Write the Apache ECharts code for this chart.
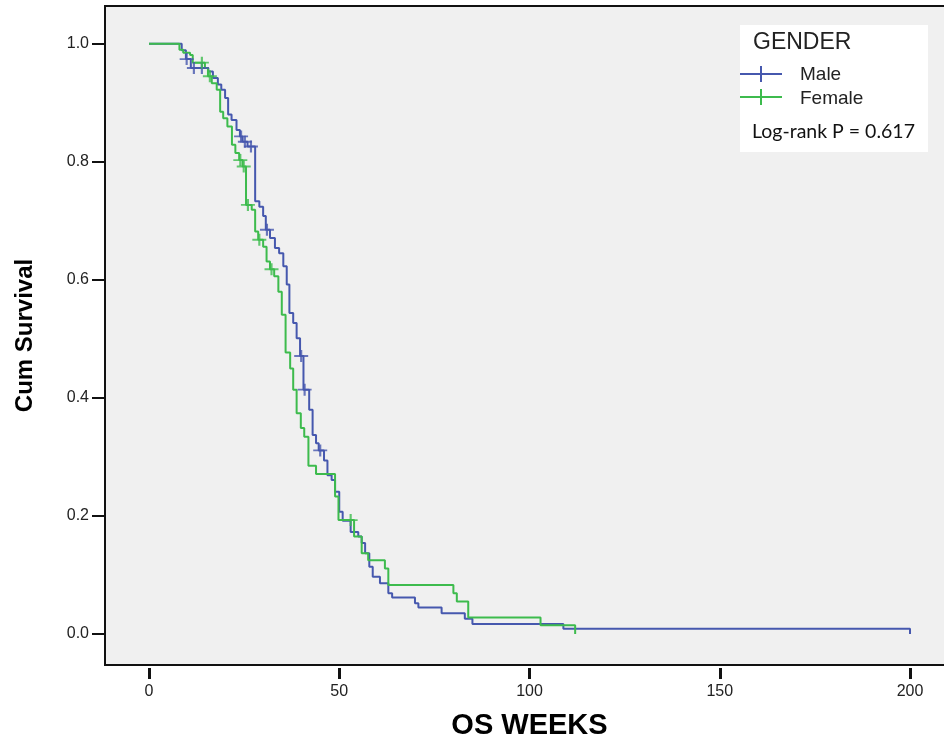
<!DOCTYPE html>
<html>
<head>
<meta charset="utf-8">
<script src="https://cdn.jsdelivr.net/npm/echarts@6/dist/echarts.min.js"></script>
<style>
  html, body { margin: 0; padding: 0; background: #fff; }
  #chart { width: 944px; height: 738px; }
</style>
</head>
<body>
<div id="chart"></div>
<script>
// Kaplan-Meier steps: [weeks, cum survival after the drop]
const maleSteps = [
  [0, 1], [8.6, 0.989], [9.7, 0.974], [11.0, 0.959], [15.6, 0.953], [16.8, 0.942],
  [18.1, 0.931], [19.0, 0.922], [20.0, 0.908], [20.8, 0.880], [21.7, 0.871], [23.0, 0.854],
  [23.9, 0.843], [24.6, 0.834], [25.9, 0.826], [27.9, 0.733], [29.0, 0.724], [30.0, 0.708],
  [30.7, 0.685], [31.8, 0.671], [33.1, 0.654], [34.2, 0.645], [35.3, 0.623], [36.2, 0.592],
  [36.9, 0.544], [37.9, 0.527], [38.8, 0.501], [39.7, 0.471], [40.6, 0.414], [42.1, 0.380],
  [43.0, 0.337], [43.9, 0.323], [44.6, 0.311], [46.0, 0.294], [46.9, 0.269], [48.0, 0.261],
  [48.9, 0.241], [50.0, 0.207], [50.9, 0.192], [53.0, 0.173], [55.0, 0.165], [55.9, 0.154],
  [56.8, 0.137], [57.9, 0.114], [58.8, 0.097], [60.7, 0.086], [62.9, 0.069], [63.9, 0.062],
  [69.9, 0.052], [70.8, 0.045], [76.9, 0.035], [83.0, 0.026], [85.0, 0.017], [108.9, 0.009],
  [200, 0]
]
const maleCensored = [
  [9.9, 0.974], [11.8, 0.959], [13.9, 0.959], [24.2, 0.843], [25.2, 0.834], [26.8, 0.826],
  [31.0, 0.685], [40.0, 0.471], [40.9, 0.414], [45.0, 0.311]
]
const femaleSteps = [
  [0, 1], [8.0, 0.990], [9.0, 0.985], [10.8, 0.981], [11.5, 0.968], [14.7, 0.959],
  [15.5, 0.945], [16.5, 0.933], [17.8, 0.922], [18.7, 0.885], [19.5, 0.874], [20.6, 0.860],
  [21.8, 0.829], [22.7, 0.815], [23.7, 0.803], [24.6, 0.792], [25.5, 0.727], [27.0, 0.719],
  [27.9, 0.682], [28.7, 0.668], [30.0, 0.656], [30.9, 0.631], [31.8, 0.618], [32.9, 0.606],
  [34.0, 0.580], [34.9, 0.541], [35.9, 0.477], [37.1, 0.450], [37.9, 0.414], [38.8, 0.374],
  [39.9, 0.349], [40.8, 0.334], [41.9, 0.285], [43.9, 0.271], [48.9, 0.233], [49.8, 0.193],
  [53.9, 0.165], [55.9, 0.137], [57.6, 0.125], [62.0, 0.111], [62.9, 0.083], [80.0, 0.069],
  [80.9, 0.055], [83.9, 0.028], [102.9, 0.015], [112.0, 0]
]
const femaleCensored = [
  [13.9, 0.968], [16.0, 0.945], [24.0, 0.803], [24.9, 0.792], [26.0, 0.727],
  [29.0, 0.668], [32.2, 0.618], [53.0, 0.193]
]
const xTicks = [0, 50, 100, 150, 200]
const yTicks = [0, 0.2, 0.4, 0.6, 0.8, 1.0]
const groupNames = ['Male', 'Female']
const legendTitle = 'GENDER'
const pText = 'Log-rank P = 0.617'

const BLUE = '#4658ae'
const GREEN = '#3dbb4d'
const CROSS = 'path://M0,6L14,6M7,0L7,12'

function stepSeries(name, data, color) {
  return {
    name, type: 'line', step: 'end', data, symbol: 'none', silent: true,
    lineStyle: { color, width: 2 }, z: 3
  }
}

function censorSeries(name, data, color) {
  return {
    name, type: 'scatter', data, symbol: CROSS, symbolSize: [14, 12], silent: true,
    itemStyle: { color: 'transparent', borderColor: color, borderWidth: 2 }, z: 4
  }
}

function legendCross(y, color) {
  return [
    { type: 'line', shape: { x1: 740, y1: y, x2: 782, y2: y }, style: { stroke: color, lineWidth: 2 } },
    { type: 'line', shape: { x1: 761, y1: y - 8, x2: 761, y2: y + 8 }, style: { stroke: color, lineWidth: 2 } }
  ]
}

const chart = echarts.init(document.getElementById('chart'))
chart.setOption({
  backgroundColor: '#fff',
  animation: false,
  grid: {
    left: 105, top: 6, width: 849, height: 659,
    outerBoundsMode: 'none', containLabel: false,
    show: true, backgroundColor: '#f0f0f0', borderColor: '#111', borderWidth: 2
  },
  xAxis: {
    type: 'value', min: -11.56, max: 211.56, offset: 3,
    axisLine: { show: false, onZero: false },
    axisTick: { show: true, customValues: xTicks, length: 11, lineStyle: { color: '#111', width: 3 } },
    axisLabel: { customValues: xTicks, margin: 16, color: '#222', fontSize: 16, fontFamily: 'Liberation Sans' },
    splitLine: { show: false },
    name: 'OS WEEKS', nameLocation: 'middle', nameGap: 43,
    nameTextStyle: { fontSize: 29, fontWeight: 'bold', color: '#000', fontFamily: 'Liberation Sans', verticalAlign: 'top' }
  },
  yAxis: {
    type: 'value', min: -0.0525, max: 1.064,
    axisLine: { show: false, onZero: false },
    axisTick: { show: true, customValues: yTicks, length: 13, lineStyle: { color: '#111', width: 2 } },
    axisLabel: {
      customValues: yTicks, margin: 16, color: '#222', fontSize: 16, fontFamily: 'Liberation Sans',
      formatter: v => v.toFixed(1)
    },
    splitLine: { show: false },
    name: 'Cum Survival', nameLocation: 'middle', nameGap: 68, nameRotate: 90,
    nameTextStyle: { fontSize: 24, fontWeight: 'bold', color: '#000', fontFamily: 'Liberation Sans' }
  },
  series: [
    stepSeries(groupNames[0], maleSteps, BLUE),
    stepSeries(groupNames[1], femaleSteps, GREEN),
    censorSeries(groupNames[0] + ' censored', maleCensored, BLUE),
    censorSeries(groupNames[1] + ' censored', femaleCensored, GREEN)
  ],
  graphic: [
    { type: 'rect', shape: { x: 740, y: 25, width: 188, height: 127 }, style: { fill: '#fff' }, z: 10 },
    { type: 'text', x: 753, y: 43, z: 11,
      style: { text: legendTitle, fontSize: 23, fontFamily: 'Liberation Sans', fill: '#222', verticalAlign: 'middle' } },
    ...legendCross(74, BLUE).map(g => ({ ...g, z: 11 })),
    ...legendCross(97, GREEN).map(g => ({ ...g, z: 11 })),
    { type: 'text', x: 800, y: 75, z: 11,
      style: { text: groupNames[0], fontSize: 19, fontFamily: 'Liberation Sans', fill: '#222', verticalAlign: 'middle' } },
    { type: 'text', x: 800, y: 99, z: 11,
      style: { text: groupNames[1], fontSize: 19, fontFamily: 'Liberation Sans', fill: '#222', verticalAlign: 'middle' } },
    { type: 'text', x: 752, y: 132, z: 11,
      style: { text: pText, fontSize: 19.5, fontFamily: 'Lato', fill: '#111', verticalAlign: 'middle' } }
  ]
})
</script>
</body>
</html>
